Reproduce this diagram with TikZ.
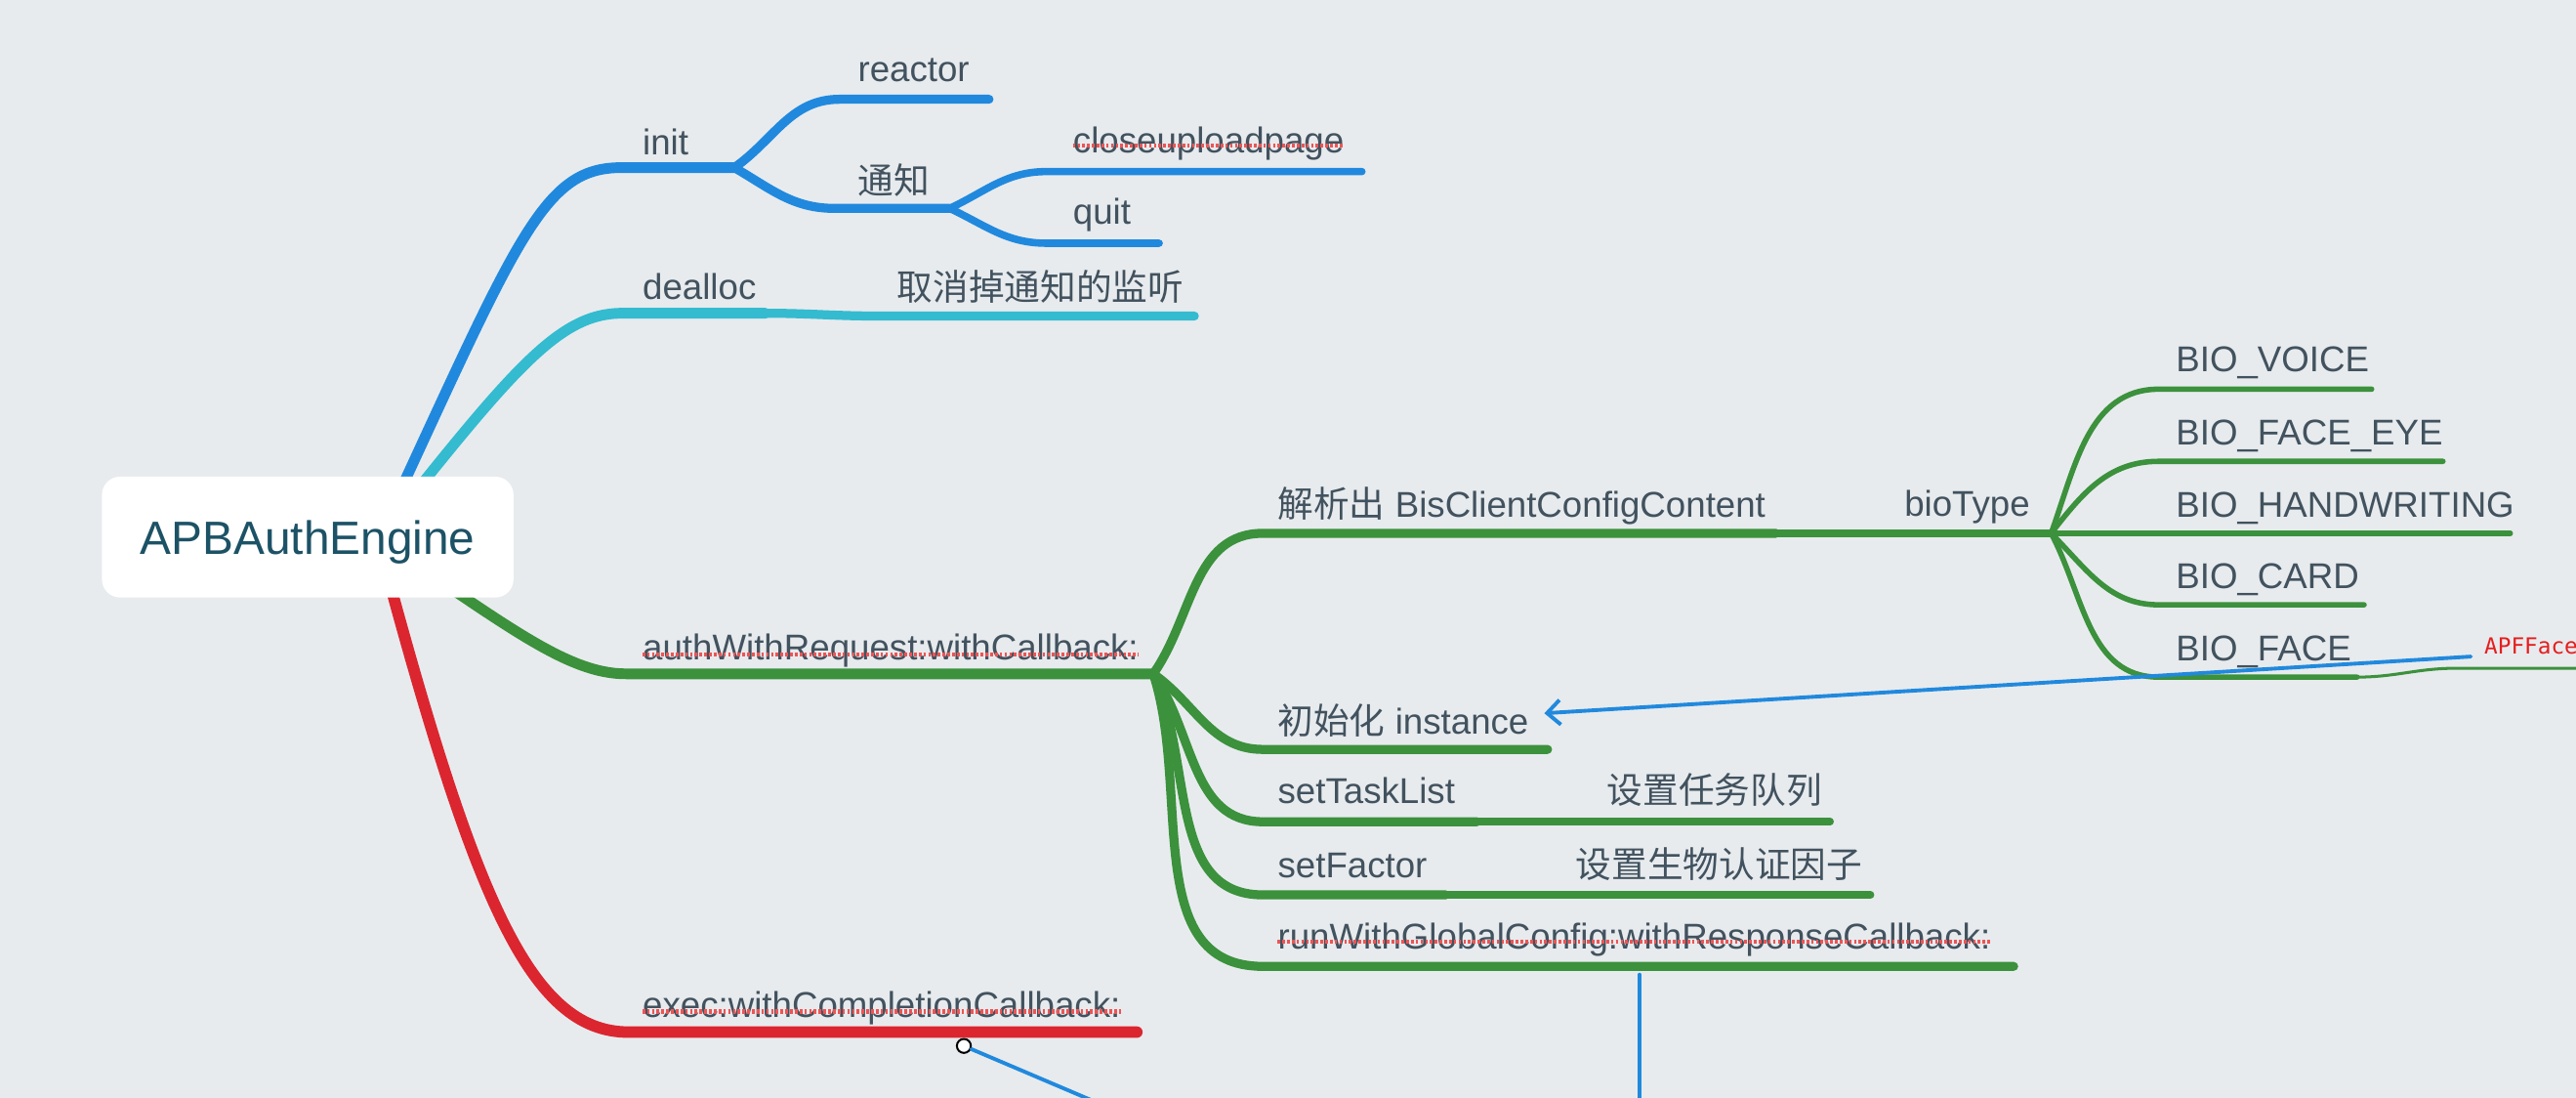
\documentclass[tikz,border=0pt]{standalone}
\usepackage{fontspec}
\setmainfont{Liberation Sans}
\newfontfamily\cjk{Noto Sans CJK SC}
\newfontfamily\apfmono{DejaVu Sans Mono}
\usetikzlibrary{arrows.meta}

\definecolor{bgpaper}{RGB}{231,235,238}
\definecolor{brblue}{RGB}{33,137,221}
\definecolor{brcyan}{RGB}{52,187,208}
\definecolor{brgreen}{RGB}{60,145,60}
\definecolor{brred}{RGB}{219,38,48}
\definecolor{labelgray}{RGB}{66,82,94}
\definecolor{roottext}{RGB}{28,82,102}
\definecolor{spellred}{RGB}{238,84,84}
\definecolor{apfred}{RGB}{230,30,30}

\tikzset{
  topic/.style={anchor=base west, inner sep=0pt, text=labelgray, font=\fontsize{21.8}{24}\selectfont},
  rootbox/.style={fill=white, rounded corners=11pt, minimum width=250.5pt, minimum height=73.5pt, inner sep=0pt},
  lvlone/.style={line width=6.5pt, line cap=round},
  lvltwo/.style={line width=5.5pt, line cap=round},
  lvlthree/.style={line width=4.5pt, line cap=round},
  lvlfour/.style={line width=3.3pt, line cap=round},
  squiggle/.style={spellred, line width=2.6pt, dash pattern=on 1.6pt off 1.3pt},
  relline/.style={brblue, line width=2.3pt, line cap=round},
}

\begin{document}
\begin{tikzpicture}[x=1pt,y=1pt,yscale=-1]
	\useasboundingbox (0,0) rectangle (1568,668);
	\fill[bgpaper] (0,0) rectangle (1568,668);
	\clip (0,0) rectangle (1568,668);

	%Branch ends
	\coordinate (hub) at (230,328);
	\coordinate (init-s) at (378,102);
	\coordinate (init-e) at (447,102);
	\coordinate (reactor-s) at (511,60.4);
	\coordinate (reactor-e) at (602,60.4);
	\coordinate (notify-s) at (508,126.8);
	\coordinate (notify-e) at (578,126.8);
	\coordinate (close-s) at (637,104.4);
	\coordinate (close-e) at (829,104.4);
	\coordinate (quit-s) at (637,148);
	\coordinate (quit-e) at (705.6,148);
	\coordinate (dealloc-s) at (378.6,190.6);
	\coordinate (dealloc-e) at (466,190.6);
	\coordinate (cancel-s) at (535,192.3);
	\coordinate (cancel-e) at (727,192.3);
	\coordinate (auth-s) at (381,410);
	\coordinate (auth-e) at (702,410);
	\coordinate (parse-s) at (768.7,324.5);
	\coordinate (parse-e) at (1081,324.5);
	\coordinate (biotype-e) at (1248.5,324.5);
	\coordinate (voice-s) at (1314,236.8);
	\coordinate (voice-e) at (1443.6,236.8);
	\coordinate (faceeye-s) at (1314,280.7);
	\coordinate (faceeye-e) at (1487,280.7);
	\coordinate (hand-e) at (1528,324.5);
	\coordinate (card-s) at (1314,368);
	\coordinate (card-e) at (1439,368);
	\coordinate (face-s) at (1314,412);
	\coordinate (face-e) at (1434.7,412);
	\coordinate (apf-s) at (1495,406.6);
	\coordinate (apf-e) at (1590,406.6);
	\coordinate (inst-s) at (768.7,456);
	\coordinate (inst-e) at (942,456);
	\coordinate (task-s) at (768.7,500);
	\coordinate (task-m) at (899,500);
	\coordinate (task-e) at (1114,500);
	\coordinate (factor-s) at (768.7,544.5);
	\coordinate (factor-m) at (880,544.5);
	\coordinate (factor-e) at (1138.6,544.5);
	\coordinate (run-s) at (768.7,588);
	\coordinate (run-e) at (1225.7,588);
	\coordinate (exec-s) at (382.7,628);
	\coordinate (exec-e) at (692,628);

	%Blue branch: init
	\draw[brblue, lvlone] (hub) .. controls (315,145) and (330,102) .. (init-s) -- (init-e);
	\draw[brblue, lvltwo] (init-e) to[out=-35,in=180] (reactor-s) -- (reactor-e);
	\draw[brblue, lvltwo] (init-e) to[out=30,in=180] (notify-s) -- (notify-e);
	\draw[brblue, lvlthree] (notify-e) to[out=-25,in=180] (close-s) -- (close-e);
	\draw[brblue, lvlthree] (notify-e) to[out=25,in=180] (quit-s) -- (quit-e);

	%Cyan branch: dealloc
	\draw[brcyan, lvlone] (hub) .. controls (312,225) and (340,190.6) .. (dealloc-s) -- (dealloc-e);
	\draw[brcyan, lvltwo] (dealloc-e) to[out=0,in=180] (cancel-s) -- (cancel-e);

	%Green branch: authWithRequest
	\draw[brgreen, lvlone] (hub) .. controls (308,380) and (345,410) .. (auth-s) -- (auth-e);
	\draw[brgreen, lvltwo] (auth-e) to[out=-55,in=180] (parse-s) -- (parse-e);
	\draw[brgreen, lvlthree] (parse-e) -- (biotype-e);
	\draw[brgreen, lvlfour] (biotype-e) to[out=-70,in=180] (voice-s) -- (voice-e);
	\draw[brgreen, lvlfour] (biotype-e) to[out=-52,in=180] (faceeye-s) -- (faceeye-e);
	\draw[brgreen, lvlfour] (biotype-e) -- (hand-e);
	\draw[brgreen, lvlfour] (biotype-e) to[out=45,in=180] (card-s) -- (card-e);
	\draw[brgreen, lvlfour] (biotype-e) to[out=62,in=180] (face-s) -- (face-e);
	\draw[brgreen, line width=1.8pt] (face-e) to[out=0,in=180] (apf-s) -- (apf-e);
	\draw[brgreen, lvltwo] (auth-e) to[out=35,in=180] (inst-s) -- (inst-e);
	\draw[brgreen, lvltwo] (auth-e) to[out=55,in=180] (task-s) -- (task-m);
	\draw[brgreen, lvlthree] (task-m) -- (task-e);
	\draw[brgreen, lvltwo] (auth-e) to[out=65,in=180] (factor-s) -- (factor-m);
	\draw[brgreen, lvlthree] (factor-m) -- (factor-e);
	\draw[brgreen, lvltwo] (auth-e) to[out=72,in=180] (run-s) -- (run-e);

	%Red branch: exec
	\draw[brred, line width=7pt, line cap=round] (hub) .. controls (288,545) and (322,628) .. (exec-s) -- (exec-e);

	%Root
	\node[rootbox] (root) at (187.3,326.8) {};
	\node[anchor=base, inner sep=0pt, text=roottext, font=\fontsize{28.4}{32}\selectfont] (roottitle) at (187.3,337.2) {APBAuthEngine};

	% Text Node
	\node[topic] (init) at (391,94) {init};
	\node[topic] (reactor) at (522,49.5) {reactor};
	\node[topic] (notify) at (522,118) {\cjk 通知};
	\node[topic] (close) at (653,93) {closeuploadpage};
	\node[topic] (quit) at (653,136.7) {quit};
	\node[topic] (dealloc) at (391,182) {dealloc};
	\node[topic] (cancel) at (546,183) {\cjk 取消掉通知的监听};
	\node[topic] (auth) at (391,401.8) {authWithRequest:withCallback:};
	\node[topic] (parse) at (777.6,315) {{\cjk 解析出} BisClientConfigContent};
	\node[topic] (biotype) at (1159,314) {bioType};
	\node[topic] (voice) at (1324.3,226) {BIO\_VOICE};
	\node[topic] (faceeye) at (1324.3,270.5) {BIO\_FACE\_EYE};
	\node[topic] (hand) at (1324.3,314.5) {BIO\_HANDWRITING};
	\node[topic] (card) at (1324.3,358) {BIO\_CARD};
	\node[topic] (face) at (1324.3,402) {BIO\_FACE};
	\node[anchor=base west, inner sep=0pt, text=apfred, font=\apfmono\fontsize{13.5}{15}\selectfont] (apf) at (1512,398) {APFFace};
	\node[topic] (inst) at (777.6,446.8) {{\cjk 初始化} instance};
	\node[topic] (task) at (777.6,489) {setTaskList};
	\node[topic] (tasknote) at (978,489) {\cjk 设置任务队列};
	\node[topic] (factor) at (777.6,534) {setFactor};
	\node[topic] (factornote) at (959,534) {\cjk 设置生物认证因子};
	\node[topic] (run) at (777.6,577.5) {runWithGlobalConfig:withResponseCallback:};
	\node[topic] (exec) at (391,619) {exec:withCompletionCallback:};

	%Spell marks
	\draw[squiggle] ([yshift=-4.5pt]close.base west) -- ([yshift=-4.5pt]close.base east);
	\draw[squiggle] ([yshift=-3.5pt]auth.base west) -- ([yshift=-3.5pt]auth.base east);
	\draw[squiggle] ([yshift=-4.5pt]run.base west) -- ([yshift=-4.5pt]run.base east);
	\draw[squiggle] ([yshift=-3.5pt]exec.base west) -- ([yshift=-3.5pt]exec.base east);

	%Relationship lines
	\coordinate (apf-rel) at (1504,399.5);
	\coordinate (inst-tip) at (940,434);
	\coordinate (run-rel) at (998,593);
	\coordinate (run-out) at (998,690);
	\coordinate (exec-out) at (700,684.6);
	\draw[relline, -{Straight Barb[length=8pt,width=15pt]}] (apf-rel) -- (inst-tip);
	\draw[relline] (run-rel) -- (run-out);
	\node[circle, draw=black, fill=white, line width=1.2pt, minimum size=8.5pt, inner sep=0pt] (execdot) at (586.7,636.4) {};
	\draw[relline] (execdot) -- (exec-out);
\end{tikzpicture}
\end{document}
